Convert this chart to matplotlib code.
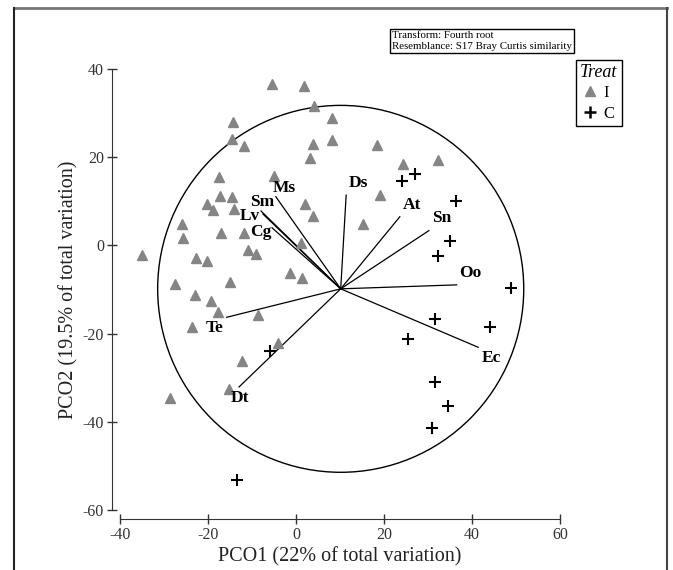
import matplotlib
matplotlib.use('Agg')
import matplotlib.pyplot as plt
from matplotlib.patches import Circle
from matplotlib.lines import Line2D

plt.rcParams['font.family'] = ['Liberation Serif', 'DejaVu Serif']
plt.rcParams['axes.unicode_minus'] = False

# PCO scores, treatment I (triangles)
i_x = [-5.5, 1.8, 4.0, 8.2, -14.3, -14.5, -11.8, 3.9, 8.2, 3.2,
       -17.4, -4.9, -20.2, -17.2, -14.6, -18.9, -14.0, 2.1, 3.9, -25.8,
       -25.6, -17.1, -11.8, 1.2, -35.0, -22.8, -20.2, -11.0, -9.0, -27.6,
       -15.0, -1.4, 1.3, -23.0, -19.4, -17.8, -8.7, -23.7, -4.1, -12.2,
       -15.2, -28.7, 18.3, 24.3, 32.3, 19.2, 15.3]
i_y = [36.7, 36.1, 31.6, 28.9, 28.0, 24.2, 22.6, 23.1, 23.9, 19.9,
       15.6, 15.7, 9.5, 11.2, 10.9, 8.0, 8.3, 9.5, 6.6, 4.9,
       1.7, 2.9, 2.8, 0.5, -2.2, -2.9, -3.5, -1.1, -1.9, -8.7,
       -8.2, -6.3, -7.4, -11.3, -12.5, -15.0, -15.7, -18.6, -22.1, -26.2,
       -32.6, -34.6, 22.7, 18.5, 19.4, 11.5, 4.8]

# treatment C (crosses)
c_x = [24.2, 27.0, 36.3, 35.0, 32.3, 48.9, 31.6, 25.5, 44.0, 31.5,
       34.6, 30.8, -5.8, -13.3]
c_y = [14.7, 16.1, 10.1, 1.0, -2.4, -9.6, -16.7, -21.2, -18.4, -30.9,
       -36.4, -41.3, -23.9, -53.1]

# vector overlay
vec_names = ['Ms', 'Sm', 'Lv', 'Cg', 'Te', 'Ds', 'At', 'Sn', 'Oo', 'Ec', 'Dt']
vec_x = [-4.6, -7.95, -7.5, -5.45, -15.75, 11.4, 23.6, 30.2, 36.5, 41.4, -12.95]
vec_y = [11.05, 7.8, 7.1, 4.0, -16.3, 11.4, 6.5, 3.35, -8.95, -23.1, -32.1]
lab_x = [-2.7, -7.6, -10.4, -7.95, -18.6, 14.1, 26.4, 33.1, 39.7, 44.3, -12.8]
lab_y = [13.0, 9.8, 6.6, 3.1, -18.7, 14.2, 9.2, 6.2, -6.2, -25.5, -34.5]
center = (10.16, -9.85)
radius = 41.6

fig = plt.figure(figsize=(6.73, 5.70), dpi=100)
ax = fig.add_axes([120 / 673, 60 / 570, 440 / 673, 441 / 570])

ax.add_patch(Circle(center, radius, fill=False, ec='black', lw=1.0))
for k in range(len(vec_names)):
    ax.plot([center[0], vec_x[k]], [center[1], vec_y[k]], color='black', lw=0.9)
    ax.text(lab_x[k], lab_y[k], vec_names[k], ha='center', va='center',
            fontsize=12.5, fontweight='bold')

ax.plot(i_x, i_y, ls='none', marker='^', ms=7.5, color='#858585', mec='#858585')
ax.plot(c_x, c_y, ls='none', marker='+', ms=9, color='black', mew=1.5)

ax.set_xlim(-40, 60)
ax.set_ylim(-60, 40)
ax.set_xticks(range(-40, 61, 20))
ax.set_yticks(range(-60, 41, 20))
for side in ['top', 'right']:
    ax.spines[side].set_visible(False)
ax.spines['left'].set_position(('outward', 6))
ax.spines['bottom'].set_position(('outward', 6.5))
for side in ['left', 'bottom']:
    ax.spines[side].set_color('#333333')
ax.tick_params(direction='inout', length=7, width=1, colors='#333333',
               labelsize=11.5, pad=2)
ax.set_xlabel('PCO1 (22% of total variation)', fontsize=14.5, color='#222222', labelpad=3)
ax.set_ylabel('PCO2 (19.5% of total variation)', fontsize=14.5, color='#222222', labelpad=3)

handles = [Line2D([], [], ls='none', marker='^', ms=7.5, color='#858585'),
           Line2D([], [], ls='none', marker='+', ms=9, mew=1.8, color='black')]
leg = fig.legend(handles, ['I', 'C'], loc='upper left',
                 bbox_to_anchor=(576 / 673, 1 - 60 / 570), fontsize=12,
                 title='Treat', title_fontproperties={'style': 'italic', 'size': 13},
                 fancybox=False, edgecolor='black', framealpha=1,
                 handlelength=0.8, handletextpad=0.4, borderpad=0.25,
                 labelspacing=0.25, borderaxespad=0)
leg.get_frame().set_linewidth(1.0)

fig.text(392 / 673, 1 - 31 / 570,
         'Transform: Fourth root\nResemblance: S17 Bray Curtis similarity',
         ha='left', va='top', fontsize=7.8, linespacing=1.3,
         bbox=dict(boxstyle='square,pad=0.2', fc='white', ec='black', lw=1.0))

# outer frame
fig.add_artist(Line2D([14 / 673, 667 / 673], [1 - 8 / 570, 1 - 8 / 570],
                      transform=fig.transFigure, color='#777777', lw=2))
fig.add_artist(Line2D([14 / 673, 14 / 673], [0, 1 - 8 / 570],
                      transform=fig.transFigure, color='#222222', lw=1.5))
fig.add_artist(Line2D([667 / 673, 667 / 673], [0, 1 - 8 / 570],
                      transform=fig.transFigure, color='#444444', lw=1.5))

fig.savefig('out.png', dpi=100)
